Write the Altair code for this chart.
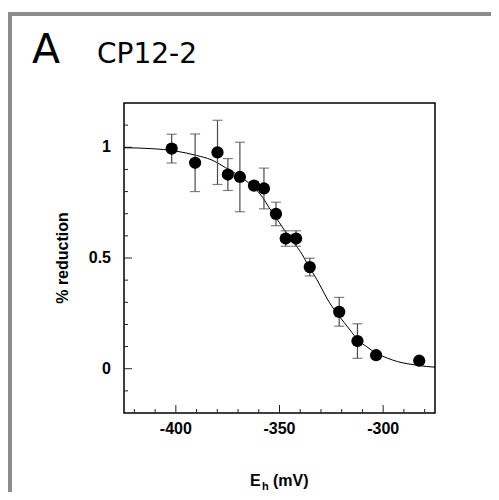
import altair as alt
import pandas as pd

# measured points
eh = [-402, -390.7, -379.9, -374.9, -369.1, -362.3, -357.5, -351.7, -347.0, -342.0, -335.4, -321.2, -312.4, -303.4, -282.6]
red = [0.994, 0.93, 0.977, 0.877, 0.866, 0.827, 0.814, 0.699, 0.588, 0.588, 0.459, 0.257, 0.125, 0.061, 0.036]
err = [0.065, 0.13, 0.145, 0.072, 0.157, 0.0, 0.092, 0.053, 0.035, 0.035, 0.04, 0.065, 0.078, 0.0, 0.0]

# fitted curve
curve_x = [-425, -412, -400, -390, -383, -376, -370, -365, -358, -355, -350, -345, -340, -336, -332,
           -326, -321, -316, -312, -308, -303, -298, -293, -288, -283, -279, -275]
curve_y = [0.998, 0.994, 0.983, 0.963, 0.944, 0.908, 0.875, 0.84, 0.772, 0.727, 0.659, 0.59, 0.53, 0.465, 0.403,
           0.30, 0.235, 0.175, 0.128, 0.10, 0.068, 0.048, 0.032, 0.022, 0.015, 0.010, 0.007]

x_major = [-400, -350, -300]
x_labels = ["-400", "-350", "-300"]
x_minor = [-420, -410, -390, -380, -370, -360, -340, -330, -320, -310, -290, -280]
y_major = [0, 0.5, 1]
y_labels = ["0", "0.5", "1"]
y_minor = [-0.1, 0.1, 0.2, 0.3, 0.4, 0.6, 0.7, 0.8, 0.9, 1.1]

W, H = 311, 310
xs = alt.Scale(domain=[-425, -275], nice=False, zero=False)
ys = alt.Scale(domain=[-0.2, 1.2], nice=False, zero=False)

pts = pd.DataFrame({"eh": eh, "red": red, "err": err})
pts["lo"] = pts["red"] - pts["err"]
pts["hi"] = pts["red"] + pts["err"]
ebars = pts[pts["err"] > 0]
cur = pd.DataFrame({"eh": curve_x, "red": curve_y})

X = alt.X("eh:Q", scale=xs, axis=None)
Y = alt.Y("red:Q", scale=ys, axis=None)

curve = alt.Chart(cur).mark_line(color="black", strokeWidth=1, interpolate="monotone").encode(x=X, y=Y)

ec = "#4a4a4a"
bars = alt.Chart(ebars).mark_rule(color=ec, strokeWidth=1.2).encode(
    x=X, y=alt.Y("lo:Q", scale=ys, axis=None), y2="hi:Q")
cap_lo = alt.Chart(ebars).mark_tick(color=ec, orient="horizontal", size=10, thickness=1.2).encode(
    x=X, y=alt.Y("lo:Q", scale=ys, axis=None))
cap_hi = alt.Chart(ebars).mark_tick(color=ec, orient="horizontal", size=10, thickness=1.2).encode(
    x=X, y=alt.Y("hi:Q", scale=ys, axis=None))

dots = alt.Chart(pts).mark_circle(color="black", opacity=1, size=150).encode(x=X, y=Y)

# axis ticks (inward) drawn from tick lists
xmaj = pd.DataFrame({"eh": x_major, "lab": x_labels})
xmin = pd.DataFrame({"eh": x_minor})
ymaj = pd.DataFrame({"red": y_major, "lab": y_labels})
ymin = pd.DataFrame({"red": y_minor})

tk = "#222222"
xt1 = alt.Chart(xmaj).mark_rule(color=tk, strokeWidth=1).encode(x=X, y=alt.value(H), y2=alt.value(H - 8))
xt2 = alt.Chart(xmin).mark_rule(color=tk, strokeWidth=1).encode(x=X, y=alt.value(H), y2=alt.value(H - 4))
yt1 = alt.Chart(ymaj).mark_rule(color=tk, strokeWidth=1).encode(y=Y, x=alt.value(0), x2=alt.value(8))
yt2 = alt.Chart(ymin).mark_rule(color=tk, strokeWidth=1).encode(y=Y, x=alt.value(0), x2=alt.value(4))

lab_font = "Liberation Sans"
xl = alt.Chart(xmaj).mark_text(font=lab_font, fontWeight="bold", fontSize=16, baseline="middle",
                               align="center", color="black").encode(
    x=X, y=alt.value(H + 16), text="lab:N")
yl = alt.Chart(ymaj).mark_text(font=lab_font, fontWeight="bold", fontSize=16, baseline="middle",
                               align="right", color="black").encode(
    y=Y, x=alt.value(-13), text="lab:N")

def txt(s, x, y, size, font=lab_font, weight="bold", angle=0, align="left", baseline="alphabetic"):
    kw = dict(font=font, fontWeight=weight, fontSize=size, align=align, baseline=baseline, color="black")
    if angle:
        kw["angle"] = angle
    return alt.Chart(pd.DataFrame({"t": [s]})).mark_text(**kw).encode(
        x=alt.value(x), y=alt.value(y), text="t:N")

xt_E = txt("E", 126, 383, 16)
xt_h = txt("h", 138, 387, 11)
xt_mv = txt("(mV)", 149, 383, 16)
ytitle = txt("% reduction", -61, H / 2, 16, angle=270, align="center", baseline="middle")

tA = txt("A", -92, -40, 41, font="DejaVu Sans", weight="normal")
tC = txt("CP12-2", -27, -40, 28, font="DejaVu Sans", weight="normal")

# outer panel frame
fr = "#8c8c8c"
frame_v = alt.Chart(pd.DataFrame({"a": [0]})).mark_rule(color=fr, strokeWidth=4).encode(
    x=alt.value(-114), y=alt.value(-91), y2=alt.value(400))
frame_h = alt.Chart(pd.DataFrame({"a": [0]})).mark_rule(color=fr, strokeWidth=4).encode(
    x=alt.value(-116), x2=alt.value(380), y=alt.value(-89))

chart = alt.layer(
    frame_v, frame_h, xt1, xt2, yt1, yt2, curve, bars, cap_lo, cap_hi, dots, xl, yl,
    xt_E, xt_h, xt_mv, ytitle, tA, tC
).properties(
    width=W, height=H,
    autosize=alt.AutoSizeParams(type="none"),
    padding={"left": 116, "top": 95, "right": 56, "bottom": 79},
    background="white",
).configure_view(stroke="black", strokeWidth=1.5)

chart.save("out.html", embed_options={"renderer": "svg", "actions": False})
